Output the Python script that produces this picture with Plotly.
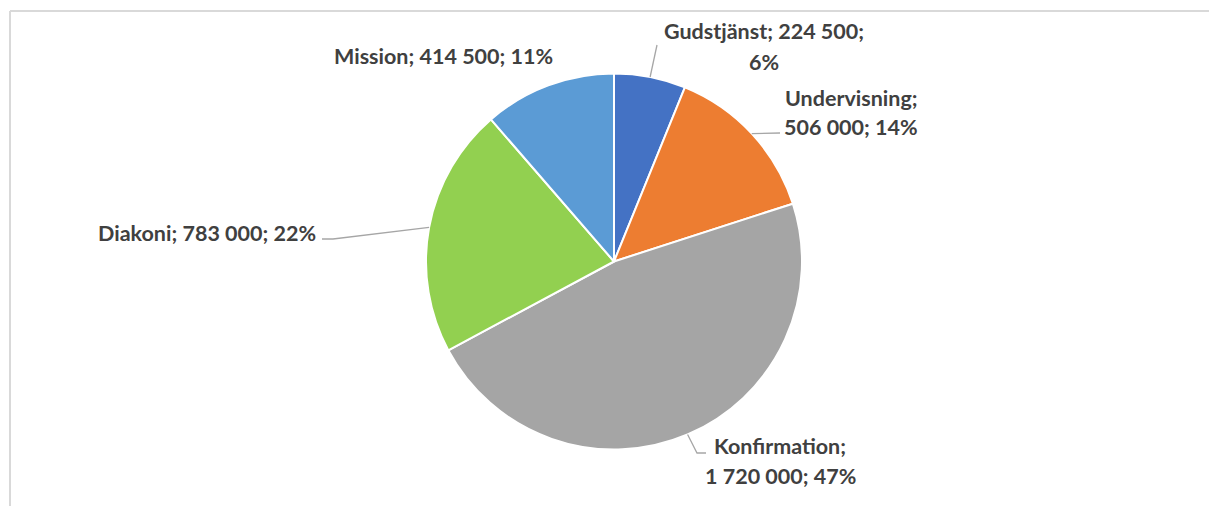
import math
import plotly.graph_objects as go

# ---- data ----
categories = ["Gudstjänst", "Undervisning", "Konfirmation", "Diakoni", "Mission"]
values = [224500, 506000, 1720000, 783000, 414500]
value_labels = ["224 500", "506 000", "1 720 000", "783 000", "414 500"]
percent_labels = ["6%", "14%", "47%", "22%", "11%"]
colors = ["#4472C4", "#ED7D31", "#A5A5A5", "#92D050", "#5B9BD5"]

W, H = 1209, 506
CX, CY, R = 614, 261.5, 188

def px(x):
    return x / W

def py(y):
    return 1 - y / H

total = sum(values)

# label layout (pixel positions of text lines), per category
label_lines = {
    "Gudstjänst": [(f"Gudstjänst; {value_labels[0]};", 764, 31), (percent_labels[0], 764, 62)],
    "Undervisning": [("Undervisning;", 851, 98), (f"{value_labels[1]}; {percent_labels[1]}", 851, 127)],
    "Konfirmation": [("Konfirmation;", 780, 446), (f"{value_labels[2]}; {percent_labels[2]}", 780, 476)],
    "Diakoni": [(f"Diakoni; {value_labels[3]}; {percent_labels[3]}", 207, 233)],
    "Mission": [(f"Mission; {value_labels[4]}; {percent_labels[4]}", 443, 56)],
}
# leader-line waypoints after the slice edge point
leader_paths = {
    "Gudstjänst": [(657, 45)],
    "Undervisning": [(780, 133)],
    "Konfirmation": [(697, 453), (706, 453)],
    "Diakoni": [(333, 239), (322, 239)],
    "Mission": [],
}

fig = go.Figure(go.Pie(
    labels=categories,
    values=values,
    sort=False,
    direction="clockwise",
    rotation=0,
    marker=dict(colors=colors, line=dict(color="white", width=2)),
    textinfo="none",
    hoverinfo="label+value+percent",
    showlegend=False,
    domain=dict(x=[px(CX - R), px(CX + R)], y=[py(CY + R), py(CY - R)]),
))

font = dict(family="Lato, Open Sans, sans-serif", size=21.5, color="#404040")
annotations = []
for cat in categories:
    for text, x, y in label_lines[cat]:
        annotations.append(dict(
            text=f"<b>{text}</b>", x=px(x), y=py(y), xref="paper", yref="paper",
            xanchor="center", yanchor="middle", showarrow=False, font=font,
        ))

shapes = []
cum = 0
for cat, v in zip(categories, values):
    mid = (cum + v / 2) / total * 2 * math.pi
    cum += v
    pts = leader_paths[cat]
    if not pts:
        continue
    sx = CX + R * math.sin(mid)
    sy = CY - R * math.cos(mid)
    path = [(sx, sy)] + pts
    d = "M " + " L ".join(f"{px(x)},{py(y)}" for x, y in path)
    shapes.append(dict(type="path", path=d, xref="paper", yref="paper",
                       line=dict(color="#A6A6A6", width=1.3)))

# chart-area border (top and left visible)
shapes.append(dict(type="line", xref="paper", yref="paper", x0=px(10), x1=1.0, y0=py(11), y1=py(11),
                   line=dict(color="#D9D9D9", width=2)))
shapes.append(dict(type="line", xref="paper", yref="paper", x0=px(10), x1=px(10), y0=py(11), y1=0,
                   line=dict(color="#D9D9D9", width=2)))

fig.update_layout(
    width=W, height=H,
    margin=dict(l=0, r=0, t=0, b=0),
    paper_bgcolor="white", plot_bgcolor="white",
    annotations=annotations, shapes=shapes,
)

fig.write_html("out.html", config={"displayModeBar": False},
               post_script="document.body.style.margin='0';document.body.style.padding='0';")
